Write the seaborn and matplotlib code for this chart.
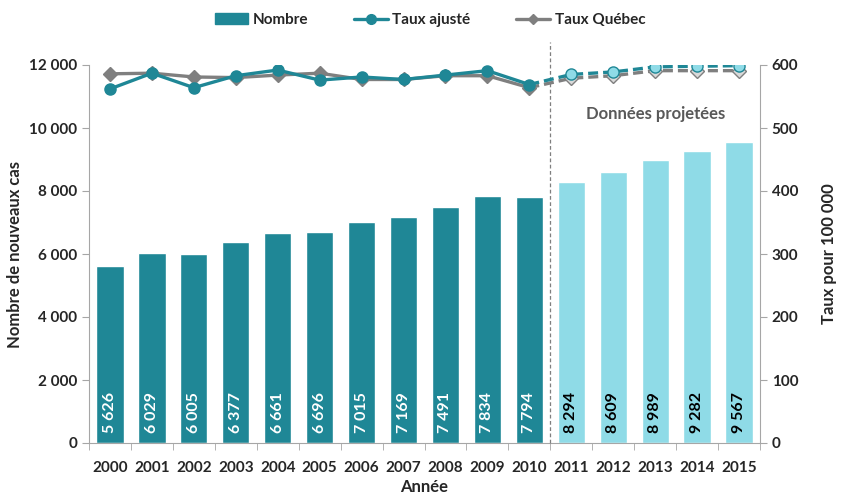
#!/usr/bin/env python3
# coding=utf-8
import matplotlib
matplotlib.use('Agg')
import matplotlib.pyplot as plt
from matplotlib.lines import Line2D
from matplotlib.patches import Patch
from matplotlib.ticker import FuncFormatter, MultipleLocator
import matplotlib.transforms as mtransforms
import numpy as np
import pandas as pd
import seaborn as sns

# data
annees = [2000, 2001, 2002, 2003, 2004, 2005, 2006, 2007, 2008, 2009, 2010,
          2011, 2012, 2013, 2014, 2015]
nombre = [5626, 6029, 6005, 6377, 6661, 6696, 7015, 7169, 7491, 7834, 7794,
          8294, 8609, 8989, 9282, 9567]
type_donnee = ['obs'] * 11 + ['proj'] * 5
taux_ajuste = [562, 587, 564, 583, 592, 576, 581, 577, 584, 591, 569,
               585, 589, 597, 598, 599]
taux_quebec = [586, 587, 581, 580, 584, 587, 577, 577, 583, 583, 564,
               579, 583, 591, 591, 591]

TEAL = '#1f8796'
LIGHT = '#8fdbe7'
GREY = '#7f7f7f'

df = pd.DataFrame({'annee': [str(a) for a in annees], 'nombre': nombre,
                   'type': type_donnee})

sns.set_style('white')
plt.rcParams['font.family'] = ['Lato', 'DejaVu Sans']
plt.rcParams['font.weight'] = 'bold'

fig = plt.figure(figsize=(8.5, 4.95), dpi=100)
ax = fig.add_axes([89 / 850, 1 - 443 / 495, (760 - 89) / 850, (443 - 65) / 495])

sns.barplot(data=df, x='annee', y='nombre', hue='type', dodge=False, width=0.65,
            palette={'obs': TEAL, 'proj': LIGHT}, legend=False, ax=ax,
            saturation=1)

ax.set_ylim(0, 12000)
ax.set_xlim(-0.5, len(annees) - 0.5)
ax.yaxis.set_major_locator(MultipleLocator(2000))
ax.yaxis.set_major_formatter(FuncFormatter(lambda v, p: '{:,.0f}'.format(v).replace(',', ' ')))
ax.set_xlabel('Année', fontsize=12, fontweight='bold', labelpad=3)
ax.set_ylabel('Nombre de nouveaux cas', fontsize=12, fontweight='bold', labelpad=4)
ax.set_xticks(np.arange(len(annees)))
ax.set_xticklabels([str(a) for a in annees], fontsize=11, fontweight='bold')
ax.set_xticks(np.arange(len(annees) + 1) - 0.5, minor=True)
ax.tick_params(axis='x', which='major', length=0, pad=13)
ax.tick_params(axis='x', which='minor', length=5, color='#a6a6a6', direction='out', bottom=True)
ax.tick_params(axis='y', length=5, color='#a6a6a6', direction='out', left=True,
               labelsize=11)
for lbl in ax.get_yticklabels():
    lbl.set_fontweight('bold')
for s in ['top', 'right']:
    ax.spines[s].set_visible(False)
for s in ['left', 'bottom']:
    ax.spines[s].set_color('#a6a6a6')

# value labels inside bars
for i, (v, t) in enumerate(zip(nombre, type_donnee)):
    lab = '{:,}'.format(v).replace(',', ' ')
    ax.text(i, 330, lab, rotation=90, ha='center', va='bottom', fontsize=11.5,
            fontweight='bold', color='white' if t == 'obs' else 'black')

# rates on the right axis
ax2 = ax.twinx()
ax2.set_ylim(0, 600)
ax2.yaxis.set_major_locator(MultipleLocator(100))
ax2.set_ylabel('Taux pour 100 000', fontsize=12, fontweight='bold', labelpad=16)
ax2.tick_params(axis='y', length=5, color='#a6a6a6', direction='out', right=True,
                labelsize=11)
for lbl in ax2.get_yticklabels():
    lbl.set_fontweight('bold')
for s in ['top', 'left', 'bottom']:
    ax2.spines[s].set_visible(False)
ax2.spines['right'].set_color('#a6a6a6')

x = np.arange(len(annees))
n_obs = type_donnee.count('obs')
obs = slice(0, n_obs)
proj = slice(n_obs - 1, len(annees))
proj_only = slice(n_obs, len(annees))

# Québec first so ajusté is drawn on top
ax2.plot(x[obs], taux_quebec[obs], color=GREY, lw=2.4, marker='D', ms=7,
         markerfacecolor=GREY, markeredgecolor=GREY, zorder=3)
ax2.plot(x[proj], taux_quebec[proj], color=GREY, lw=2.4, ls=(0, (3, 1.5)), zorder=3)
ax2.plot(x[proj_only], taux_quebec[proj_only], ls='none', marker='D', ms=7,
         markerfacecolor='#d9d9d9', markeredgecolor=GREY, zorder=3)

ax2.plot(x[obs], taux_ajuste[obs], color=TEAL, lw=2.4, marker='o', ms=8,
         markerfacecolor=TEAL, markeredgecolor=TEAL, zorder=4)
ax2.plot(x[proj], taux_ajuste[proj], color=TEAL, lw=2.4, ls=(0, (3, 1.5)), zorder=4)
ax2.plot(x[proj_only], taux_ajuste[proj_only], ls='none', marker='o', ms=8,
         markerfacecolor=LIGHT, markeredgecolor=TEAL, zorder=4)

# separator between observed and projected data
trans = mtransforms.blended_transform_factory(ax.transData, ax.transAxes)
ax.plot([n_obs - 0.5, n_obs - 0.5], [0, 1.06], transform=trans, color='#7f7f7f',
        lw=0.9, ls=(0, (3, 2)), clip_on=False, zorder=5)
ax.text(13, 0.87, 'Données projetées', transform=trans, ha='center', va='center',
        fontsize=12, fontweight='bold', color='#595959')

handles = [Patch(facecolor=TEAL, edgecolor=TEAL),
           Line2D([], [], color=TEAL, lw=2.4, marker='o', ms=7),
           Line2D([], [], color=GREY, lw=2.4, marker='D', ms=5)]
fig.legend(handles, ['Nombre', 'Taux ajusté', 'Taux Québec'], loc='center',
           bbox_to_anchor=(430 / 850, 1 - 20 / 495), ncol=3, frameon=False,
           fontsize=11, handlelength=2.2, columnspacing=3.0, handletextpad=0.3)

fig.savefig('out.png', dpi=100)
plt.close('all')
